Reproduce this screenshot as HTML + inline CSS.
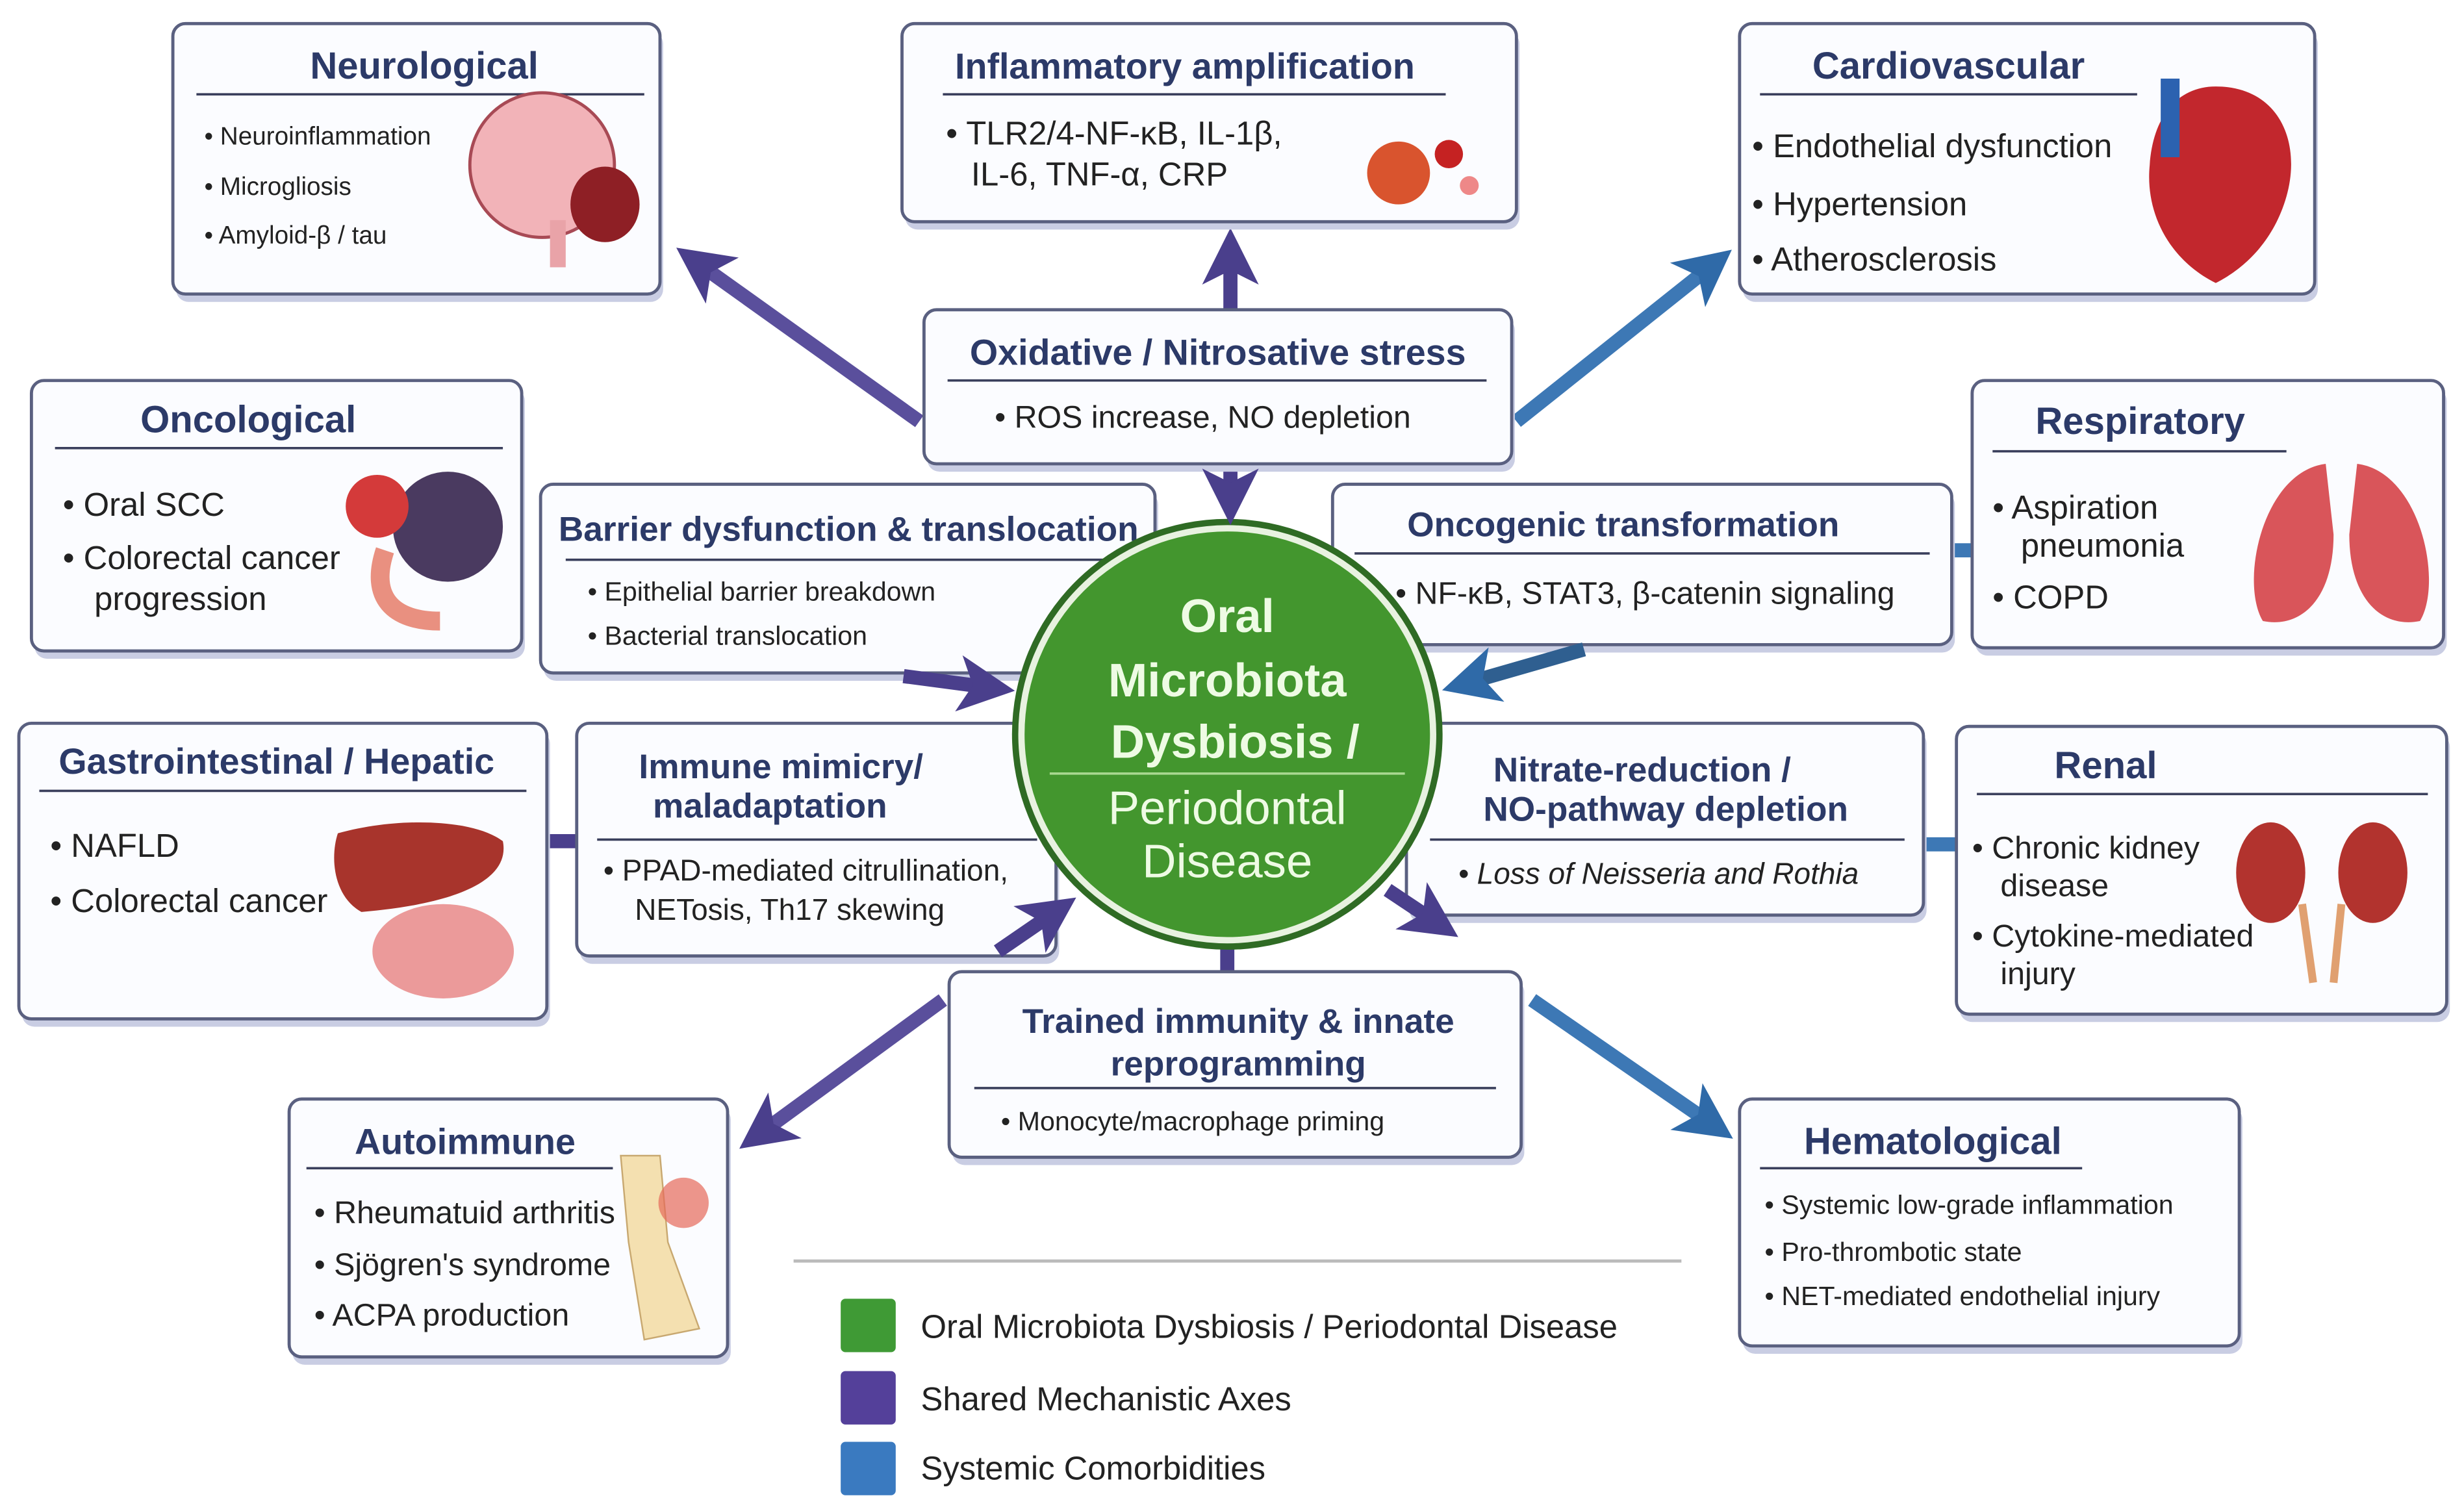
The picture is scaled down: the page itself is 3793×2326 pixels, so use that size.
<!DOCTYPE html>
<html><head><meta charset="utf-8"><style>
html,body{margin:0;padding:0;background:#fff}
svg{display:block}
text{font-family:"Liberation Sans",sans-serif}
.t{font-weight:bold;fill:#2c3a68;text-anchor:middle}
.b{fill:#222}
.bx{fill:#fbfcff;stroke:#5a6080;stroke-width:2}
.sh{fill:#c9cde3}
.ln{stroke:#3a3f5c;stroke-width:1.5}
</style></head><body>
<svg width="3793" height="2326" viewBox="0 0 1568 961" preserveAspectRatio="none" xmlns="http://www.w3.org/2000/svg">
<defs>
<marker id="ap" markerWidth="4" markerHeight="4" refX="2" refY="2" orient="auto" markerUnits="strokeWidth"><path d="M0,0 L4,2 L0,4 L1,2z" fill="#4a3f8c"/></marker>
<marker id="ab" markerWidth="4" markerHeight="4" refX="2" refY="2" orient="auto" markerUnits="strokeWidth"><path d="M0,0 L4,2 L0,4 L1,2z" fill="#2f6aa8"/></marker>
</defs>
<rect width="1568" height="961" fill="#fff"/>
<!-- arrows -->
<g stroke-width="9" fill="none">
<line x1="585" y1="268" x2="445" y2="168" stroke="#5a4f9c" marker-end="url(#ap)"/>
<line x1="783" y1="197" x2="783" y2="163" stroke="#4a3f8c" marker-end="url(#ap)"/>
<line x1="965" y1="268" x2="1088" y2="170" stroke="#3d78b5" marker-end="url(#ab)"/>
<line x1="600" y1="636" x2="485" y2="720" stroke="#5a4f9c" marker-end="url(#ap)"/>
<line x1="975" y1="636" x2="1088" y2="714" stroke="#3d78b5" marker-end="url(#ab)"/>
<line x1="781" y1="598" x2="781" y2="620" stroke="#4a3f8c"/>
<line x1="1242" y1="350" x2="1257" y2="350" stroke="#3d78b5"/>
<line x1="346" y1="535" x2="369" y2="535" stroke="#4a3f8c"/>
<line x1="1222" y1="537" x2="1247" y2="537" stroke="#3d78b5"/>
</g>
<!-- boxes -->
<g>
<rect class="sh" x="112" y="20" width="310" height="172" rx="8"/>
<rect class="bx" x="110" y="15" width="310" height="172" rx="8"/>
<text class="t" x="270" y="50" font-size="24">Neurological</text>
<line class="ln" x1="125" y1="60" x2="410" y2="60"/>
<g font-size="16" class="b"><text x="130" y="92">• Neuroinflammation</text><text x="130" y="124">• Microgliosis</text><text x="130" y="155">• Amyloid-β / tau</text></g>
<ellipse cx="345" cy="105" rx="46" ry="46" fill="#f2b3b8" stroke="#a84a55" stroke-width="2"/>
<ellipse cx="385" cy="130" rx="22" ry="24" fill="#8e1f25"/>
<rect x="350" y="140" width="10" height="30" fill="#e9a3a8"/>
</g>
<g>
<rect class="sh" x="576" y="20" width="391" height="126" rx="8"/>
<rect class="bx" x="574" y="15" width="391" height="126" rx="8"/>
<text class="t" x="754" y="50" font-size="23" fill="#3a3470">Inflammatory amplification</text>
<line class="ln" x1="600" y1="60" x2="920" y2="60"/>
<g font-size="21" class="b"><text x="602" y="92">• TLR2/4-NF-κB, IL-1β,</text><text x="618" y="118">IL-6, TNF-α, CRP</text></g>
<circle cx="890" cy="110" r="20" fill="#d9542e"/><circle cx="922" cy="98" r="9" fill="#c52222"/><circle cx="935" cy="118" r="6" fill="#e88"/>
</g>
<g>
<rect class="sh" x="1109" y="20" width="366" height="172" rx="8"/>
<rect class="bx" x="1107" y="15" width="366" height="172" rx="8"/>
<text class="t" x="1240" y="50" font-size="24">Cardiovascular</text>
<line class="ln" x1="1120" y1="60" x2="1360" y2="60"/>
<g font-size="21" class="b"><text x="1115" y="100">• Endothelial dysfunction</text><text x="1115" y="137">• Hypertension</text><text x="1115" y="172">• Atherosclerosis</text></g>
<path d="M1410 55 C1450 55 1465 90 1455 125 C1445 160 1420 175 1410 180 C1380 165 1365 135 1368 105 C1370 75 1385 55 1410 55z" fill="#c2272d"/>
<rect x="1375" y="50" width="12" height="50" fill="#2c62b0"/>
</g>
<g>
<rect class="sh" x="22" y="247" width="312" height="172" rx="8"/>
<rect class="bx" x="20" y="242" width="312" height="172" rx="8"/>
<text class="t" x="158" y="275" font-size="24">Oncological</text>
<line class="ln" x1="35" y1="285" x2="320" y2="285"/>
<g font-size="21" class="b"><text x="40" y="328">• Oral SCC</text><text x="40" y="362">• Colorectal cancer</text><text x="60" y="388">progression</text></g>
<circle cx="285" cy="335" r="35" fill="#4a3a60"/><circle cx="240" cy="322" r="20" fill="#d43a3a"/>
<path d="M245 350 C235 380 250 395 280 395" stroke="#e99080" stroke-width="12" fill="none"/>
</g>
<g>
<rect class="sh" x="590" y="202" width="374" height="98" rx="8"/>
<rect class="bx" x="588" y="197" width="374" height="98" rx="8"/>
<text class="t" x="775" y="232" font-size="23" fill="#3a3470">Oxidative / Nitrosative stress</text>
<line class="ln" x1="603" y1="242" x2="946" y2="242"/>
<text class="b" x="633" y="272" font-size="20">• ROS increase, NO depletion</text>
</g>
<g>
<rect class="sh" x="1257" y="247" width="300" height="170" rx="8"/>
<rect class="bx" x="1255" y="242" width="300" height="170" rx="8"/>
<text class="t" x="1362" y="276" font-size="24">Respiratory</text>
<line class="ln" x1="1268" y1="287" x2="1455" y2="287"/>
<g font-size="21" class="b"><text x="1268" y="330">• Aspiration</text><text x="1286" y="354">pneumonia</text><text x="1268" y="387">• COPD</text></g>
<path d="M1480 295 C1440 300 1425 370 1440 395 C1465 400 1485 380 1485 340z M1500 295 C1540 300 1555 370 1540 395 C1515 400 1495 380 1495 340z" fill="#d9555a"/>
</g>
<g>
<rect class="sh" x="346" y="313" width="391" height="120" rx="8"/>
<rect class="bx" x="344" y="308" width="391" height="120" rx="8"/>
<text class="t" x="540" y="344" font-size="22" fill="#3a3470">Barrier dysfunction &amp; translocation</text>
<line class="ln" x1="360" y1="356" x2="722" y2="356"/>
<g font-size="17" class="b"><text x="374" y="382">• Epithelial barrier breakdown</text><text x="374" y="410">• Bacterial translocation</text></g>
</g>
<g>
<rect class="sh" x="850" y="313" width="394" height="102" rx="8"/>
<rect class="bx" x="848" y="308" width="394" height="102" rx="8"/>
<text class="t" x="1033" y="341" font-size="22" fill="#3a3470">Oncogenic transformation</text>
<line class="ln" x1="862" y1="352" x2="1228" y2="352"/>
<text class="b" x="888" y="384" font-size="20">• NF-κB, STAT3, β-catenin signaling</text>
</g>
<g>
<rect class="sh" x="14" y="465" width="336" height="188" rx="8"/>
<rect class="bx" x="12" y="460" width="336" height="188" rx="8"/>
<text class="t" x="176" y="492" font-size="23">Gastrointestinal / Hepatic</text>
<line class="ln" x1="25" y1="503" x2="335" y2="503"/>
<g font-size="21" class="b"><text x="32" y="545">• NAFLD</text><text x="32" y="580">• Colorectal cancer</text></g>
<path d="M215 530 C250 520 300 520 320 535 C325 560 290 575 230 580 C212 570 210 545 215 530z" fill="#a8342c"/>
<ellipse cx="282" cy="605" rx="45" ry="30" fill="#eb9a9a"/>
</g>
<g>
<rect class="sh" x="369" y="465" width="305" height="148" rx="8"/>
<rect class="bx" x="367" y="460" width="305" height="148" rx="8"/>
<text class="t" x="497" y="495" font-size="22" fill="#3a3470">Immune mimicry/</text>
<text class="t" x="490" y="520" font-size="22" fill="#3a3470">maladaptation</text>
<line class="ln" x1="380" y1="534" x2="660" y2="534"/>
<g font-size="19" class="b"><text x="384" y="560">• PPAD-mediated citrullination,</text><text x="404" y="585">NETosis, Th17 skewing</text></g>
</g>
<g>
<rect class="sh" x="897" y="465" width="329" height="122" rx="8"/>
<rect class="bx" x="895" y="460" width="329" height="122" rx="8"/>
<text class="t" x="1045" y="497" font-size="22" fill="#3a3470">Nitrate-reduction /</text>
<text class="t" x="1060" y="522" font-size="22" fill="#3a3470">NO-pathway depletion</text>
<line class="ln" x1="910" y1="534" x2="1212" y2="534"/>
<text class="b" x="928" y="562" font-size="19" font-style="italic">• Loss of Neisseria and Rothia</text>
</g>
<g>
<rect class="sh" x="1247" y="467" width="312" height="183" rx="8"/>
<rect class="bx" x="1245" y="462" width="312" height="183" rx="8"/>
<text class="t" x="1340" y="495" font-size="24">Renal</text>
<line class="ln" x1="1258" y1="505" x2="1545" y2="505"/>
<g font-size="20" class="b"><text x="1255" y="546">• Chronic kidney</text><text x="1273" y="570">disease</text><text x="1255" y="602">• Cytokine-mediated</text><text x="1273" y="626">injury</text></g>
<ellipse cx="1445" cy="555" rx="22" ry="32" fill="#b2332e"/><ellipse cx="1510" cy="555" rx="22" ry="32" fill="#b2332e"/>
<line x1="1465" y1="575" x2="1472" y2="625" stroke="#e0a070" stroke-width="5"/><line x1="1490" y1="575" x2="1485" y2="625" stroke="#e0a070" stroke-width="5"/>
</g>
<g>
<rect class="sh" x="606" y="623" width="364" height="118" rx="8"/>
<rect class="bx" x="604" y="618" width="364" height="118" rx="8"/>
<text class="t" x="788" y="657" font-size="22" fill="#3a3470">Trained immunity &amp; innate</text>
<text class="t" x="788" y="684" font-size="22" fill="#3a3470">reprogramming</text>
<line class="ln" x1="620" y1="692" x2="952" y2="692"/>
<text class="b" x="637" y="719" font-size="17">• Monocyte/macrophage priming</text>
</g>
<g>
<rect class="sh" x="186" y="704" width="279" height="164" rx="8"/>
<rect class="bx" x="184" y="699" width="279" height="164" rx="8"/>
<text class="t" x="296" y="734" font-size="23">Autoimmune</text>
<line class="ln" x1="195" y1="743" x2="390" y2="743"/>
<g font-size="20" class="b"><text x="200" y="778">• Rheumatuid arthritis</text><text x="200" y="811">• Sjögren's syndrome</text><text x="200" y="843">• ACPA production</text></g>
<path d="M395 735 L420 735 L425 790 L445 845 L410 852 L400 790z" fill="#f4e0b0" stroke="#c8a870"/>
<circle cx="435" cy="765" r="16" fill="#e66a5a" opacity=".7"/>
</g>
<g>
<rect class="sh" x="1109" y="704" width="318" height="157" rx="8"/>
<rect class="bx" x="1107" y="699" width="318" height="157" rx="8"/>
<text class="t" x="1230" y="734" font-size="24">Hematological</text>
<line class="ln" x1="1120" y1="743" x2="1325" y2="743"/>
<g font-size="17" class="b"><text x="1123" y="772">• Systemic low-grade inflammation</text><text x="1123" y="802">• Pro-thrombotic state</text><text x="1123" y="830">• NET-mediated endothelial injury</text></g>
</g>
<!-- center -->
<circle cx="781" cy="467" r="137" fill="#2f6b24"/>
<circle cx="781" cy="467" r="133" fill="#e8f2e0"/>
<circle cx="781" cy="467" r="129" fill="#43962e"/>
<line x1="668" y1="492" x2="894" y2="492" stroke="#a8d890" stroke-width="1.5"/>
<g class="t" font-size="30">
<text x="781" y="402" style="fill:#eefbe4">Oral</text>
<text x="781" y="443" style="fill:#eefbe4">Microbiota</text>
<text x="786" y="482" style="fill:#eefbe4">Dysbiosis /</text>
<text x="781" y="524" style="fill:#eefbe4;font-weight:normal">Periodontal</text>
<text x="781" y="558" style="fill:#eefbe4;font-weight:normal">Disease</text>
</g>
<!-- arrows touching circle -->
<g stroke-width="9" fill="none">
<line x1="783" y1="300" x2="783" y2="316" stroke="#4a3f8c" marker-end="url(#ap)"/>
<line x1="575" y1="430" x2="628" y2="437" stroke="#4a3f8c" marker-end="url(#ap)"/>
<line x1="1008" y1="413" x2="935" y2="434" stroke="#2f5f90" marker-end="url(#ab)"/>
<line x1="635" y1="605" x2="670" y2="581" stroke="#4a3f8c" marker-end="url(#ap)"/>
<line x1="883" y1="566" x2="913" y2="586" stroke="#4a3f8c" marker-end="url(#ap)"/>
</g>
<!-- legend -->
<line x1="505" y1="802" x2="1070" y2="802" stroke="#bbb" stroke-width="2"/>
<rect x="535" y="826" width="35" height="34" rx="3" fill="#3f9a35"/>
<rect x="535" y="872" width="35" height="34" rx="3" fill="#54409a"/>
<rect x="535" y="917" width="35" height="34" rx="3" fill="#3a7ac0"/>
<g font-size="21" fill="#222"><text x="586" y="851">Oral Microbiota Dysbiosis / Periodontal Disease</text><text x="586" y="897">Shared Mechanistic Axes</text><text x="586" y="941">Systemic Comorbidities</text></g>
</svg>
</body></html>
